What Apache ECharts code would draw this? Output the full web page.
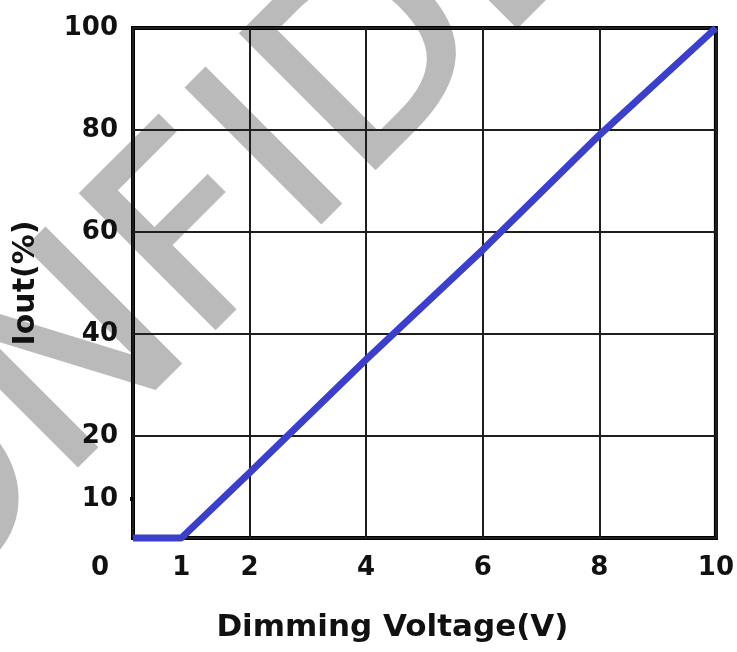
<!DOCTYPE html>
<html><head><meta charset="utf-8">
<script src="https://cdn.jsdelivr.net/npm/echarts@6/dist/echarts.min.js"></script>
<style>html,body{margin:0;padding:0;background:#fff}#c{width:737px;height:652px}</style>
</head><body><div id="c"></div>
<script>
// data
const voltage = [0, 0.83, 2, 4, 6, 8, 10];
const iout = [0, 0, 12.8, 35, 56.5, 79, 100];
const xTickValues = [0, 0.83, 2, 4, 6, 8, 10];
const xTickLabels = ['0', '1', '2', '4', '6', '8', '10'];
const yTickValues = [7.6, 20, 40, 60, 80, 100];
const yTickLabels = ['10', '20', '40', '60', '80', '100'];
const xTitle = 'Dimming Voltage(V)';
const yTitle = 'Iout(%)';
const watermark = 'CONFIDENTIAL';

const FONT = 'DejaVu Sans';
const chart = echarts.init(document.getElementById('c'), null, {renderer: 'canvas'});
const seriesData = voltage.map((v, i) => [v, iout[i]]);
function lookup(vals, labels) {
  return function (value) {
    for (let i = 0; i < vals.length; i++) if (Math.abs(vals[i] - value) < 1e-6) return labels[i];
    return '';
  };
}
const xFmt = lookup(xTickValues, xTickLabels);
const yFmt = lookup(yTickValues, yTickLabels);

chart.setOption({
  animation: false,
  backgroundColor: '#fff',
  grid: {left: 133, right: 15, top: 28, bottom: 114, show: true, borderColor: '#000', borderWidth: 4, containLabel: false},
  graphic: [{
    type: 'text', z: -100, silent: true,
    x: -261, y: 708, rotation: 0.785,
    style: {text: watermark, font: '260px "DejaVu Sans"', fill: '#bababa', stroke: '#bababa', lineWidth: 4, align: 'left', verticalAlign: 'middle'}
  }],
  xAxis: {
    type: 'value', min: 0, max: 10, interval: 2,
    name: xTitle, nameLocation: 'middle', nameGap: 74,
    nameTextStyle: {fontFamily: FONT, fontWeight: 'bold', fontSize: 31, color: '#111', padding: [0, 64, 0, 0]},
    axisLine: {show: false}, axisTick: {show: false},
    splitLine: {show: true, lineStyle: {color: '#1e1e1e', width: 2}},
    axisLabel: {
      customValues: xTickValues, margin: 17,
      fontFamily: FONT, fontWeight: 'bold', fontSize: 26, color: '#111',
      formatter: function (v) { const t = xFmt(v); return v === xTickValues[0] ? '{z|' + t + '}' : t; },
      rich: {z: {fontFamily: FONT, fontWeight: 'bold', fontSize: 26, color: '#111', padding: [0, 66, 0, 0]}}
    }
  },
  yAxis: [{
    type: 'value', min: 0, max: 100, interval: 20,
    name: yTitle, nameLocation: 'middle', nameGap: 92, nameRotate: 90,
    nameTextStyle: {fontFamily: FONT, fontWeight: 'bold', fontSize: 30, color: '#111'},
    axisLine: {show: false}, axisTick: {show: false},
    splitLine: {show: true, lineStyle: {color: '#1e1e1e', width: 2}},
    axisLabel: {customValues: yTickValues, margin: 15, fontFamily: FONT, fontWeight: 'bold', fontSize: 26, color: '#111', formatter: yFmt}
  }, {
    type: 'value', min: 0, max: 100, position: 'left', offset: 0,
    axisLine: {show: false}, splitLine: {show: false}, axisLabel: {show: false},
    axisTick: {show: true, customValues: [yTickValues[0]], length: 3, lineStyle: {color: '#000', width: 4}}
  }],
  series: [{
    type: 'line', data: seriesData, showSymbol: false, clip: false, z: 5,
    lineStyle: {color: '#3c40c8', width: 7}
  }]
});
</script></body></html>
